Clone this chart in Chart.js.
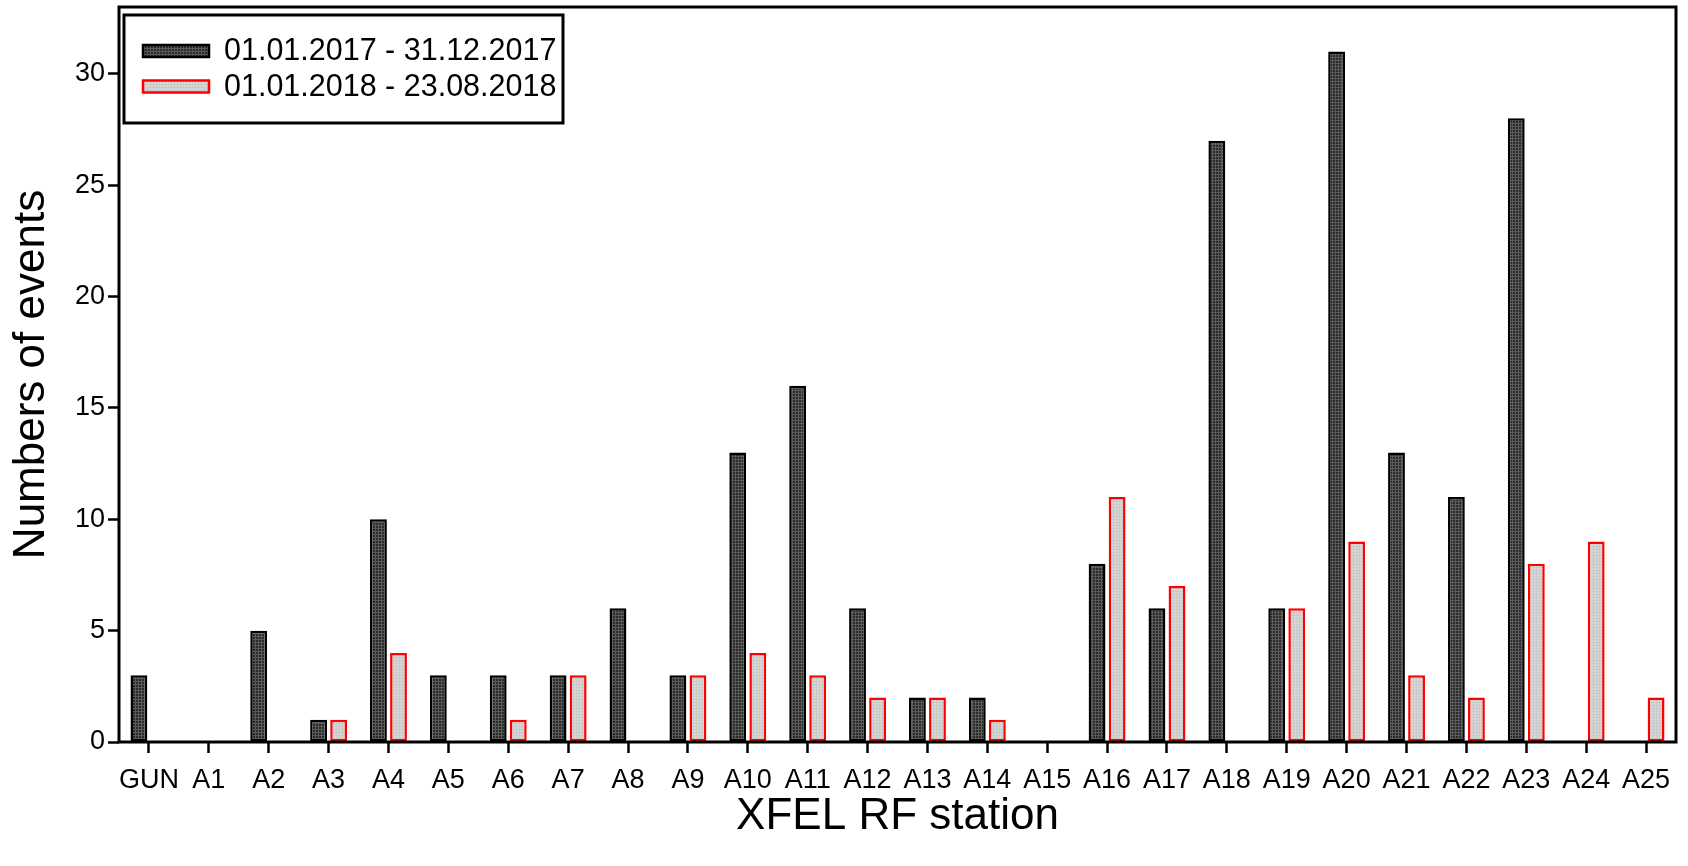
<!DOCTYPE html>
<html>
<head>
<meta charset="utf-8">
<script src="https://cdn.jsdelivr.net/npm/chart.js@4.4.1/dist/chart.umd.min.js"></script>
<style>
  html, body { margin: 0; padding: 0; background: #fff; }
  #wrap { width: 1688px; height: 866px; }
</style>
</head>
<body>
<div id="wrap"><canvas id="chart" width="1688" height="866"></canvas></div>
<script>
// --- data ---
const stations = ['GUN', 'A1', 'A2', 'A3', 'A4', 'A5', 'A6', 'A7', 'A8', 'A9', 'A10', 'A11', 'A12',
    'A13', 'A14', 'A15', 'A16', 'A17', 'A18', 'A19', 'A20', 'A21', 'A22', 'A23', 'A24', 'A25'];
const events2017 = [3, 0, 5, 1, 10, 3, 3, 3, 6, 3, 13, 16, 6, 2, 2, 0, 8, 6, 27, 6, 31, 13, 11, 28, 0, 0];
const events2018 = [0, 0, 0, 1, 4, 0, 1, 3, 0, 3, 4, 3, 2, 2, 1, 0, 11, 7, 0, 6, 9, 3, 2, 8, 9, 2];
const seriesLabels = ['01.01.2017 - 31.12.2017', '01.01.2018 - 23.08.2018'];
const yTicks = [0, 5, 10, 15, 20, 25, 30];

const FONT = "'Liberation Sans', Arial, sans-serif";
const canvas = document.getElementById('chart');
const ctx = canvas.getContext('2d');

// fine grid fill like the old plotting program
function gridPattern(base, line) {
    const c = document.createElement('canvas');
    c.width = 3; c.height = 3;
    const g = c.getContext('2d');
    g.fillStyle = base;
    g.fillRect(0, 0, 3, 3);
    g.fillStyle = line;
    g.fillRect(0, 0, 3, 1);
    g.fillRect(0, 0, 1, 3);
    return ctx.createPattern(c, 'repeat');
}

const darkFill = gridPattern('#2a2a2a', '#5a5a5a');
const lightFill = gridPattern('#d8d8d8', '#c9c9c9');

// box round the plot area
const framePlugin = {
    id: 'frame',
    afterDatasetsDraw(chart) {
        const { ctx, chartArea: a } = chart;
        ctx.save();
        ctx.strokeStyle = '#000';
        ctx.lineWidth = 3;
        ctx.strokeRect(a.left, a.top, a.right - a.left, a.bottom - a.top);
        ctx.restore();
    }
};

// legend in the top-left corner of the plot
const boxLegend = {
    id: 'boxLegend',
    afterDraw(chart) {
        const { ctx } = chart;
        ctx.save();
        ctx.strokeStyle = '#000';
        ctx.lineWidth = 3;
        ctx.strokeRect(124, 15, 439, 108);
        ctx.font = '30.5px ' + FONT;
        ctx.textBaseline = 'middle';
        const rows = [51, 86.5];
        chart.data.datasets.forEach((ds, i) => {
            const y = rows[i];
            ctx.fillStyle = ds.backgroundColor;
            ctx.fillRect(143, y - 6, 66, 12);
            ctx.strokeStyle = ds.borderColor;
            ctx.lineWidth = 2.5;
            ctx.strokeRect(143, y - 6, 66, 12);
            ctx.fillStyle = '#000';
            ctx.fillText(ds.label, 224, y + 1);
        });
        ctx.restore();
    }
};

new Chart(ctx, {
    type: 'bar',
    data: {
        labels: stations,
        datasets: [
            {
                label: seriesLabels[0],
                data: events2017,
                backgroundColor: darkFill,
                borderColor: '#000',
                borderWidth: 2.5,
                borderSkipped: false
            },
            {
                label: seriesLabels[1],
                data: events2018,
                backgroundColor: lightFill,
                borderColor: '#ff0000',
                borderWidth: 2.5,
                borderSkipped: false
            }
        ]
    },
    options: {
        responsive: false,
        animation: false,
        devicePixelRatio: 1,
        layout: { padding: { top: 7, right: 12, left: 0, bottom: 0 } },
        datasets: { bar: { categoryPercentage: 0.67, barPercentage: 0.84 } },
        plugins: {
            legend: { display: false },
            tooltip: { enabled: false }
        },
        scales: {
            x: {
                offset: true,
                grid: {
                    offset: false,
                    drawOnChartArea: false,
                    drawTicks: true,
                    tickLength: 11,
                    tickWidth: 2.5,
                    tickColor: '#000'
                },
                border: { display: false },
                ticks: {
                    color: '#000',
                    font: { family: FONT, size: 27 },
                    padding: 11,
                    maxRotation: 0,
                    autoSkip: false
                },
                title: {
                    display: true,
                    text: 'XFEL RF station',
                    color: '#000',
                    font: { family: FONT, size: 44 },
                    padding: { top: 0, bottom: 23 }
                },
                afterFit(scale) {
                    scale.height = 124;
                    scale.paddingLeft = 0;
                    scale.paddingRight = 0;
                }
            },
            y: {
                min: 0,
                max: 33,
                afterBuildTicks(scale) { scale.ticks = yTicks.map(v => ({ value: v })); },
                grid: {
                    drawOnChartArea: false,
                    drawTicks: true,
                    tickLength: 11,
                    tickWidth: 2.5,
                    tickColor: '#000'
                },
                border: { display: false },
                ticks: {
                    color: '#000',
                    font: { family: FONT, size: 27 },
                    padding: 3
                },
                title: {
                    display: true,
                    text: 'Numbers of events',
                    color: '#000',
                    font: { family: FONT, size: 44 },
                    padding: { top: 5, bottom: 0 }
                },
                afterFit(scale) {
                    scale.width = 119;
                    scale.paddingTop = 0;
                    scale.paddingBottom = 0;
                }
            }
        }
    },
    plugins: [framePlugin, boxLegend]
});
</script>
</body>
</html>
